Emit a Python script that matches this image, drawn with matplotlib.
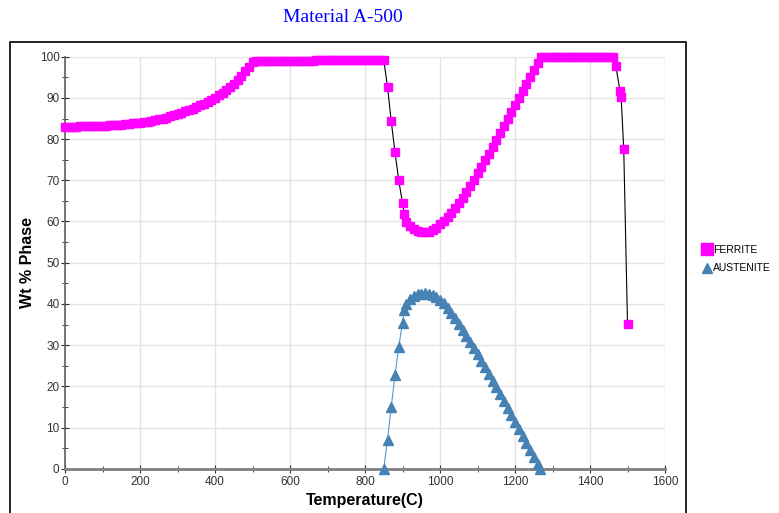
import matplotlib
matplotlib.use("Agg")
import matplotlib.pyplot as plt
from matplotlib.lines import Line2D
from matplotlib.patches import Rectangle
from matplotlib.ticker import MultipleLocator

plt.rcParams['font.family'] = ['Liberation Sans', 'DejaVu Sans']

# Ferrite (wt %) vs temperature (C)
ferrite_t = [0, 10, 20, 30, 40, 50, 60, 70, 80, 90,
             100, 110, 120, 130, 140, 150, 160, 170, 180, 190,
             200, 210, 220, 230, 240, 250, 260, 270, 280, 290,
             300, 310, 320, 330, 340, 350, 360, 370, 380, 390,
             400, 410, 420, 430, 440, 450, 460, 470, 480, 490,
             500, 510, 520, 530, 540, 550, 560, 570, 580, 590,
             600, 610, 620, 630, 640, 650, 660, 670, 680, 690,
             700, 710, 720, 730, 740, 750, 760, 770, 780, 790,
             800, 810, 820, 830, 840, 850,
             860, 870, 880, 890, 900, 905,
             910, 920, 930, 940, 950, 960, 970, 980, 990,
             1000, 1010, 1020, 1030, 1040, 1050, 1060, 1070, 1080, 1090,
             1100, 1110, 1120, 1130, 1140, 1150, 1160, 1170, 1180, 1190,
             1200, 1210, 1220, 1230, 1240, 1250, 1260,
             1270, 1280, 1290, 1300, 1310, 1320, 1330, 1340, 1350, 1360,
             1370, 1380, 1390, 1400, 1410, 1420, 1430, 1440, 1450, 1460,
             1469, 1480, 1483, 1490, 1500]
ferrite_w = [83.0, 83.0, 83.0, 83.0, 83.1, 83.1, 83.1, 83.2, 83.2, 83.2,
             83.3, 83.3, 83.4, 83.4, 83.5, 83.5, 83.6, 83.7, 83.8, 83.8,
             83.9, 84.1, 84.2, 84.4, 84.6, 84.8, 85.0, 85.2, 85.5, 85.8,
             86.1, 86.4, 86.7, 87.1, 87.4, 87.8, 88.2, 88.6, 89.1, 89.5,
             90.0, 90.6, 91.2, 91.9, 92.6, 93.4, 94.4, 95.4, 96.5, 97.6,
             98.8, 99.0, 99.0, 99.0, 99.0, 99.0, 99.0, 99.0, 99.0, 99.0,
             99.0, 99.0, 99.0, 99.0, 99.0, 99.0, 99.0, 99.2, 99.2, 99.2,
             99.2, 99.2, 99.2, 99.2, 99.2, 99.2, 99.2, 99.2, 99.2, 99.2,
             99.2, 99.2, 99.2, 99.2, 99.2, 99.2,
             92.7, 84.3, 76.8, 70.0, 64.5, 61.7,
             59.8, 58.8, 58.2, 57.8, 57.5, 57.4, 57.5, 57.9, 58.5,
             59.3, 60.2, 61.1, 62.1, 63.2, 64.4, 65.7, 67.1, 68.6, 70.1,
             71.7, 73.3, 74.9, 76.5, 78.1, 79.8, 81.4, 83.1, 84.8, 86.5,
             88.2, 89.9, 91.6, 93.3, 95.0, 96.7, 98.4,
             100, 100, 100, 100, 100, 100, 100, 100, 100, 100,
             100, 100, 100, 100, 100, 100, 100, 100, 100, 100,
             97.7, 91.7, 90.3, 77.5, 35.2]

# Austenite (wt %) vs temperature (C)
austenite_t = [850, 860, 870, 880, 890, 900, 905,
               910, 920, 930, 940, 950, 960, 970, 980, 990,
               1000, 1010, 1020, 1030, 1040, 1050, 1060, 1070, 1080, 1090,
               1100, 1110, 1120, 1130, 1140, 1150, 1160, 1170, 1180, 1190,
               1200, 1210, 1220, 1230, 1240, 1250, 1260, 1267]
austenite_w = [0.0, 7.0, 15.0, 22.7, 29.6, 35.4, 38.5,
               40.0, 41.2, 41.9, 42.3, 42.5, 42.6, 42.5, 42.2, 41.7,
               41.0, 40.2, 39.1, 37.8, 36.5, 35.1, 33.7, 32.3, 30.8, 29.3,
               27.8, 26.2, 24.6, 23.0, 21.4, 19.8, 18.1, 16.5, 14.8, 13.1,
               11.4, 9.7, 8.0, 6.3, 4.6, 2.9, 1.2, 0.0]

magenta = "#FF00FF"
steel = "#4682B4"
W, H = 779, 513

fig = plt.figure(figsize=(W / 100, H / 100), dpi=100)
fig.patches.append(Rectangle((10 / W, -0.02), 676 / W, (H - 42) / H + 0.02,
                             transform=fig.transFigure, fill=False,
                             edgecolor="black", linewidth=1.2))

ax = fig.add_axes([65 / W, 1 - 468.7 / H, 600 / W, (468.7 - 56.7) / H])

ax.plot(ferrite_t, ferrite_w, color="black", linewidth=0.8, zorder=2, clip_on=False)
ax.plot(ferrite_t, ferrite_w, linestyle="none", marker="s", markersize=5.6,
        color=magenta, markeredgecolor=magenta, zorder=3, clip_on=False)
ax.plot(austenite_t, austenite_w, color="#5A96CC", linewidth=0.8, zorder=2, clip_on=False)
ax.plot(austenite_t, austenite_w, linestyle="none", marker="^", markersize=6.5,
        color=steel, markeredgecolor=steel, zorder=3, clip_on=False)

ax.set_xlim(0, 1600)
ax.set_ylim(0, 100)
ax.xaxis.set_major_locator(MultipleLocator(200))
ax.xaxis.set_minor_locator(MultipleLocator(100))
ax.yaxis.set_major_locator(MultipleLocator(10))
ax.yaxis.set_minor_locator(MultipleLocator(5))
ax.grid(True, which="major", color="#E4E4E4", linewidth=1)
ax.set_axisbelow(True)

for s in ["top", "right"]:
    ax.spines[s].set_visible(False)
ax.spines["left"].set_color("#606060")
ax.spines["left"].set_linewidth(1.2)
ax.spines["bottom"].set_color("#808080")
ax.spines["bottom"].set_linewidth(2)

ax.tick_params(which="both", direction="inout", colors="#303030",
               labelsize=8.5, labelcolor="#333333")
ax.tick_params(which="major", length=6)
ax.tick_params(which="minor", length=5)
ax.tick_params(axis="y", pad=1)
ax.tick_params(axis="x", pad=2)

ax.set_xlabel("Temperature(C)", fontsize=11.5, fontweight="bold", labelpad=4)
ax.set_ylabel("Wt % Phase", fontsize=11.5, fontweight="bold", labelpad=3)

fig.text(343 / W, 1 - 18 / H, "Material A-500", ha="center", va="center",
         fontsize=14, color="#0000FF", family="Liberation Serif")

handles = [Line2D([], [], linestyle="none", marker="s", markersize=8, color=magenta),
           Line2D([], [], linestyle="none", marker="^", markersize=7.5, color=steel)]
fig.legend(handles, ["FERRITE", "AUSTENITE"], loc="center left",
           bbox_to_anchor=(702 / W, 1 - 259 / H), frameon=False, fontsize=7.5,
           handlelength=0.9, handletextpad=0.2, labelspacing=0.8,
           borderpad=0, borderaxespad=0)

fig.savefig("out.png", dpi=100)
